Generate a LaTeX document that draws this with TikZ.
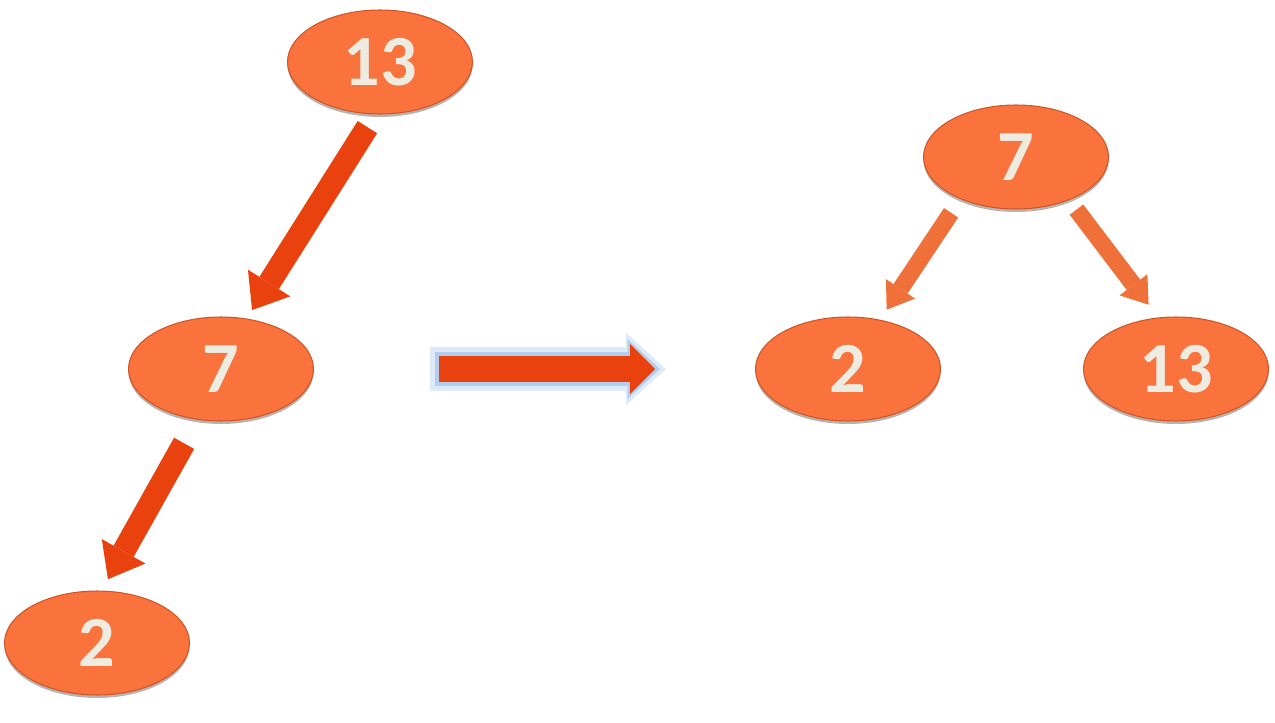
\documentclass[tikz,border=0pt]{standalone}
\usepackage{fontspec}
\setmainfont{Carlito}
\usetikzlibrary{arrows.meta,shapes.geometric,shadows}

\definecolor{nodefill}{RGB}{250,114,60}
\definecolor{noderim}{RGB}{205,85,40}
\definecolor{numtext}{RGB}{238,236,225}
\definecolor{bigarrow}{RGB}{234,66,14}
\definecolor{smallarrow}{RGB}{240,112,58}
\definecolor{glowout}{RGB}{222,234,247}
\definecolor{glowin}{RGB}{178,206,238}

\begin{document}
\begin{tikzpicture}[x=0.02cm,y=-0.02cm,
    num/.style={ellipse,minimum width=3.7cm,minimum height=2.08cm,inner sep=0pt,
      fill=nodefill,draw=noderim,line width=0.6pt,
      drop shadow={shadow xshift=0pt,shadow yshift=-0.06cm,opacity=0.35,fill=black!70!brown},
      text=numtext,font=\bfseries\fontsize{41}{44}\selectfont},
    fat/.style={draw=bigarrow,line width=0.46cm,
      -{Triangle[length=0.64cm,width=1.0cm,line width=0pt]}},
    thin/.style={draw=smallarrow,line width=0.34cm,
      -{Triangle[length=0.5cm,width=0.7cm,line width=0pt]}}]
  \useasboundingbox (0,0) rectangle (1275,723);
  % tree before the rotation
  \node[num] (l13) at (380,62) {13};
  \node[num] (l7) at (221,369) {7};
  \node[num] (l2) at (97,643) {2};
  \draw[fat,shorten <=0.3cm,shorten >=0.2cm] (l13.265) -- (l7.63);
  \draw[fat,shorten <=0.54cm,shorten >=0.26cm] (l7.245) -- (l2.85);
  % tree after the rotation
  \node[num] (r7) at (1016,157) {7};
  \node[num] (r2) at (848,369) {2};
  \node[num] (r13) at (1176,369) {13};
  \draw[thin,shorten <=0.33cm,shorten >=0.24cm] (r7.217) -- (r2.57);
  \draw[thin,shorten <=0.24cm,shorten >=0.32cm] (r7.321) -- (r13.109);
  % arrow between the two, with its glow
  \draw[glowout,line width=0.9cm,-{Triangle[length=0.8cm,width=1.45cm,line width=0pt]},
    shorten <=2.32cm,shorten >=1.78cm] (l7.east) -- (r2.west);
  \draw[glowin,line width=0.7cm,-{Triangle[length=0.65cm,width=1.2cm,line width=0pt]},
    shorten <=2.42cm,shorten >=1.9cm] (l7.east) -- (r2.west);
  \draw[bigarrow,line width=0.54cm,-{Triangle[length=0.5cm,width=1.0cm,line width=0pt]},
    shorten <=2.5cm,shorten >=2cm] (l7.east) -- (r2.west);
\end{tikzpicture}
\end{document}
